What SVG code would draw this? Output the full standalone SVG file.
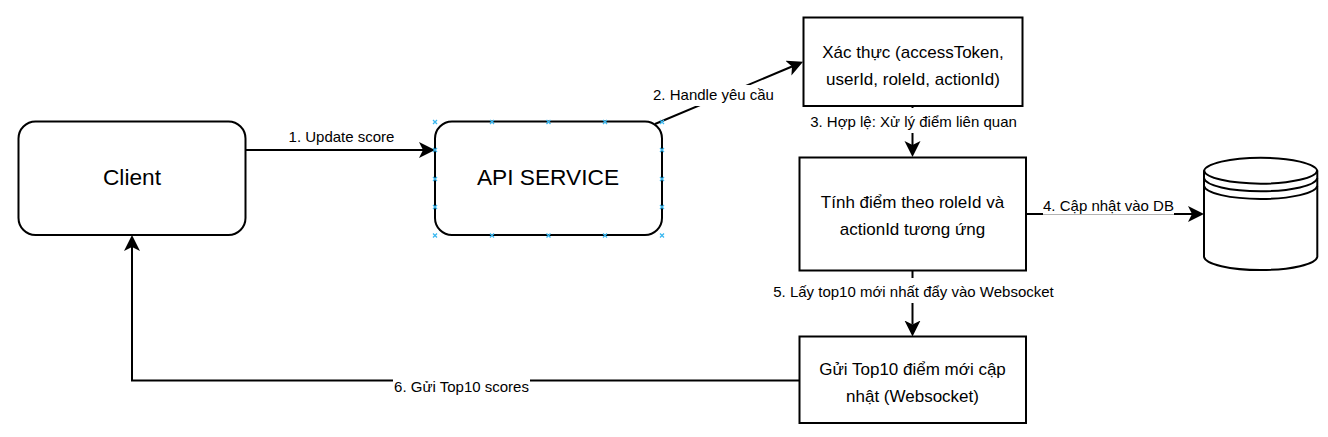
<svg xmlns="http://www.w3.org/2000/svg" width="1328" height="437" viewBox="0 0 1328 437">
<style>
text{font-family:"Liberation Sans",Arial,sans-serif;fill:#000;text-anchor:middle}
.shape{fill:#fff;stroke:#000;stroke-width:2}
.link{fill:none;stroke:#000;stroke-width:2;marker-end:url(#arrow)}
.bg{fill:#fff;stroke:none}
.lbl{font-size:15px}
.big{font-size:22.700px}
.mid{font-size:17px}
.pt{fill:none;stroke:#3bb8f0;stroke-width:1.300}
</style>
<defs>
<marker id="arrow" markerUnits="userSpaceOnUse" markerWidth="18" markerHeight="18" refX="4" refY="8" orient="auto" viewBox="0 0 18 18">
<path d="M0 0L16 8L0 16L4 8Z" fill="#000"/>
</marker>
<path id="x" d="M-2-2L2 2M-2 2L2-2"/>
</defs>
<rect width="1328" height="437" fill="#fff"/>
<g id="connectors">
<path class="link" d="M246 150H423"/>
<path class="link" d="M655 124L792 66.500"/>
<path class="link" d="M912.500 106V145"/>
<path class="link" d="M1026 214H1192"/>
<path class="link" d="M912.500 270V324.500"/>
<path class="link" d="M799 380.500H132V247"/>
</g>
<g id="labels">
<rect class="bg" x="284" y="129" width="114" height="19"/>
<text class="lbl" x="341.500" y="142">1. Update score</text>
<rect class="bg" x="652" y="85" width="123" height="21"/>
<text class="lbl" x="713.500" y="100">2. Handle yêu cầu</text>
<rect class="bg" x="809" y="108" width="209" height="25"/>
<text class="lbl" x="913.500" y="127">3. Hợp lệ: Xử lý điểm liên quan</text>
<rect class="bg" x="1043" y="198" width="131" height="16.700"/>
<text class="lbl" x="1108.500" y="211">4. Cập nhật vào DB</text>
<rect class="bg" x="772" y="278" width="283" height="25"/>
<text class="lbl" x="913.500" y="297">5. Lấy top10 mới nhất đẩy vào Websocket</text>
<rect class="bg" x="393" y="379" width="137" height="17"/>
<text class="lbl" x="461.500" y="392">6. Gửi Top10 scores</text>
</g>
<g id="client">
<rect class="shape" x="18.500" y="121.500" width="227" height="113.500" rx="17"/>
<text class="big" x="132" y="185">Client</text>
</g>
<g id="api-service">
<rect class="shape" x="435" y="121.500" width="227" height="113.500" rx="17"/>
<text class="big" x="548" y="185">API SERVICE</text>
<g class="pt">
<use href="#x" x="435" y="122"/><use href="#x" x="492" y="122"/><use href="#x" x="548.500" y="122"/><use href="#x" x="605" y="122"/><use href="#x" x="662" y="122"/>
<use href="#x" x="435" y="150"/><use href="#x" x="662" y="150"/>
<use href="#x" x="435" y="179"/><use href="#x" x="662" y="179"/>
<use href="#x" x="435" y="207"/><use href="#x" x="662" y="207"/>
<use href="#x" x="435" y="235.500"/><use href="#x" x="492" y="235.500"/><use href="#x" x="548.500" y="235.500"/><use href="#x" x="605" y="235.500"/><use href="#x" x="662" y="235.500"/>
</g>
</g>
<g id="auth">
<rect class="shape" x="803.500" y="17.500" width="219" height="88.500"/>
<text class="mid" x="913" y="58">Xác thực (accessToken,</text>
<text class="mid" x="913" y="85">userId, roleId, actionId)</text>
</g>
<g id="score">
<rect class="shape" x="799.500" y="157.500" width="226.500" height="113"/>
<text class="mid" x="912.500" y="208">Tính điểm theo roleId và</text>
<text class="mid" x="912.500" y="235">actionId tương ứng</text>
</g>
<g id="database">
<path class="shape" d="M1204 171A56.700 13.800 0 0 1 1317.300 171V256.800A56.700 13.800 0 0 1 1204 256.800Z"/>
<path class="shape" style="fill:none" d="M1204 170.600A56.700 13.600 0 0 0 1317.300 170.600M1204 178.200A56.700 13.600 0 0 0 1317.300 178.200M1204 185.900A56.700 13.600 0 0 0 1317.300 185.900"/>
</g>
<g id="send">
<rect class="shape" x="799.500" y="336.500" width="226.500" height="86.500"/>
<text class="mid" x="912.500" y="375">Gửi Top10 điểm mới cập</text>
<text class="mid" x="912.500" y="402">nhật (Websocket)</text>
</g>
</svg>
